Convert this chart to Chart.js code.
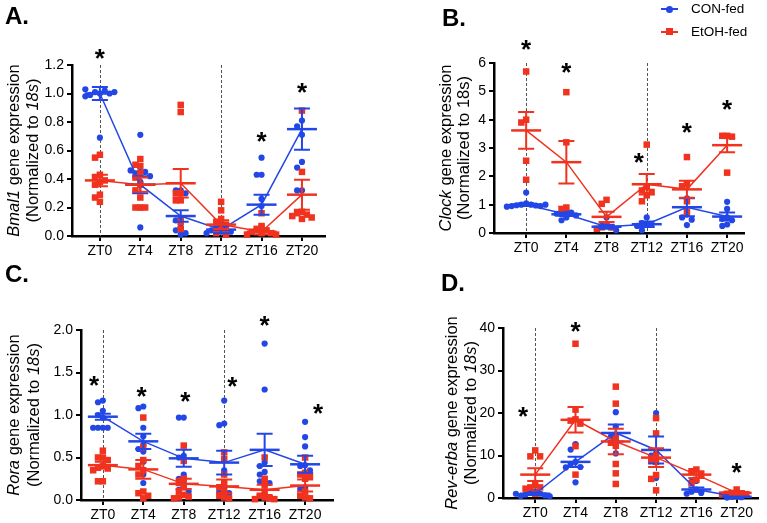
<!DOCTYPE html>
<html>
<head>
<meta charset="utf-8">
<script src="https://cdn.jsdelivr.net/npm/chart.js@4/dist/chart.umd.min.js"></script>
<style>
  body { margin: 0; background: #fff; }
  #wrap { position: relative; width: 767px; height: 523px; overflow: hidden; font-family: "Liberation Sans", Arial, sans-serif; }
  #wrap canvas { position: absolute; }
  .tag { position: absolute; font-weight: bold; font-size: 24px; line-height: 24px; color: #000; }
  .key { position: absolute; font-size: 13.5px; line-height: 14px; color: #000; }
  .kline { position: absolute; height: 2px; }
  .kdot { position: absolute; width: 7px; height: 7px; }
</style>
</head>
<body>
<div id="wrap">
  <canvas id="chartA" width="384" height="262" style="left:0;top:0"></canvas>
  <canvas id="chartB" width="383" height="262" style="left:384px;top:0"></canvas>
  <canvas id="chartC" width="384" height="261" style="left:0;top:262px"></canvas>
  <canvas id="chartD" width="383" height="261" style="left:384px;top:262px"></canvas>

  <div class="tag" style="left:5px;top:4px">A.</div>
  <div class="tag" style="left:442px;top:6px">B.</div>
  <div class="tag" style="left:5px;top:262px">C.</div>
  <div class="tag" style="left:441px;top:271px">D.</div>

  <!-- legend -->
  <div class="kline" style="left:661px;top:8px;width:17px;background:#2347e6"></div>
  <div class="kdot" style="left:666px;top:5.5px;border-radius:50%;background:#2347e6"></div>
  <div class="key" style="left:691px;top:2px">CON-fed</div>
  <div class="kline" style="left:661px;top:30.5px;width:17px;background:#f0321e"></div>
  <div class="kdot" style="left:666px;top:28px;background:#f0321e"></div>
  <div class="key" style="left:691px;top:24.5px">EtOH-fed</div>
</div>

<script>
// Data (one inner list per time point)
const zt = ['ZT0', 'ZT4', 'ZT8', 'ZT12', 'ZT16', 'ZT20'];

// A. Bmal1
const bmalCon = [
    [1.0, 1.01, 1.02, 0.99, 1.0, 1.03, 0.98, 1.01, 0.69],
    [0.71, 0.45, 0.44, 0.45, 0.46, 0.42, 0.38, 0.2, 0.06],
    [0.32, 0.32, 0.3, 0.12, 0.11, 0.06, 0.04, 0.02, 0.01],
    [0.08, 0.06, 0.05, 0.04, 0.03, 0.03, 0.02],
    [0.55, 0.43, 0.43, 0.26, 0.21, 0.07, 0.04, 0.02],
    [0.81, 0.77, 0.71, 0.52, 0.48, 0.32, 0.32]
];
const bmalConMean = [1.0, 0.36, 0.14, 0.045, 0.22, 0.75];
const bmalConSem = [0.045, 0.06, 0.04, 0.025, 0.07, 0.145];
const bmalEtoh = [
    [0.57, 0.55, 0.43, 0.41, 0.39, 0.38, 0.36, 0.29, 0.27, 0.24],
    [0.54, 0.5, 0.49, 0.44, 0.41, 0.36, 0.32, 0.27, 0.2, 0.2, 0.2],
    [0.92, 0.87, 0.3, 0.3, 0.25, 0.25, 0.1, 0.05],
    [0.24, 0.18, 0.12, 0.1, 0.08, 0.05, 0.02, 0.01],
    [0.16, 0.07, 0.05, 0.04, 0.03, 0.02, 0.02, 0.01, 0.01],
    [0.88, 0.45, 0.17, 0.16, 0.15, 0.14, 0.13, 0.12]
];
const bmalEtohMean = [0.39, 0.36, 0.37, 0.08, 0.03, 0.29];
const bmalEtohSem = [0.04, 0.05, 0.1, 0.03, 0.02, 0.105];
const bmalStars = [1.29, null, null, null, 0.71, 1.05];

// B. Clock
const clockCon = [
    [1.43, 1.05, 1.0, 1.0, 0.98, 0.97, 0.95, 0.95, 0.93, 1.0],
    [0.8, 0.75, 0.72, 0.68, 0.62, 0.55, 0.45],
    [0.55, 0.3, 0.25, 0.2, 0.15, 0.1],
    [0.55, 0.35, 0.3, 0.3, 0.25, 0.1],
    [1.75, 1.22, 0.65, 0.55, 0.47, 0.28],
    [1.1, 0.85, 0.55, 0.5, 0.45, 0.3, 0.25]
];
const clockConMean = [1.0, 0.66, 0.22, 0.31, 0.91, 0.58];
const clockConSem = [0.05, 0.06, 0.07, 0.1, 0.32, 0.14];
const clockEtoh = [
    [5.7, 4.0, 3.9, 2.55, 1.88],
    [4.97, 3.2, 0.9, 0.85],
    [1.17, 1.03, 0.3, 0.2, 0.2, 0.15],
    [3.12, 1.63, 1.5, 1.45, 1.33, 1.12],
    [2.68, 1.72, 1.65, 1.12, 0.75],
    [3.43, 3.43, 3.4, 2.13]
];
const clockEtohMean = [3.62, 2.5, 0.57, 1.72, 1.54, 3.1];
const clockEtohSem = [0.65, 0.75, 0.18, 0.36, 0.3, 0.25];
const clockStars = [6.7, 5.9, null, 2.72, 3.78, 4.58];

// C. Rora
const roraCon = [
    [1.17, 1.15, 1.05, 1.0, 0.97, 0.85, 0.85, 0.85, 0.85],
    [1.1, 1.08, 0.85, 0.75, 0.65, 0.6, 0.57, 0.45, 0.3, 0.2],
    [0.97, 0.97, 0.52, 0.5, 0.3, 0.25, 0.22, 0.15, 0.12, 0.1],
    [1.17, 0.9, 0.88, 0.35, 0.15, 0.1, 0.08, 0.05],
    [1.84, 1.3, 0.44, 0.4, 0.33, 0.3, 0.25, 0.22, 0.2],
    [0.92, 0.74, 0.63, 0.41, 0.4, 0.35, 0.15, 0.13]
];
const roraConMean = [0.98, 0.69, 0.49, 0.44, 0.59, 0.42];
const roraConSem = [0.035, 0.09, 0.1, 0.14, 0.19, 0.1];
const roraEtoh = [
    [0.58, 0.5, 0.5, 0.47, 0.4, 0.38, 0.37, 0.35, 0.22, 0.22],
    [0.97, 0.62, 0.47, 0.4, 0.35, 0.3, 0.1, 0.08, 0.05, 0.02],
    [0.64, 0.46, 0.25, 0.2, 0.15, 0.1, 0.06, 0.04, 0.03, 0.02],
    [0.56, 0.48, 0.3, 0.2, 0.15, 0.1, 0.05, 0.03, 0.02],
    [0.5, 0.25, 0.18, 0.1, 0.05, 0.03, 0.02, 0.01, 0.01],
    [0.5, 0.32, 0.3, 0.28, 0.25, 0.1, 0.05, 0.03, 0.02]
];
const roraEtohMean = [0.41, 0.36, 0.19, 0.16, 0.12, 0.17];
const roraEtohSem = [0.04, 0.11, 0.06, 0.08, 0.06, 0.07];
const roraStars = [1.42, 1.3, 1.24, 1.41, 2.13, 1.1];

// D. Rev-erba
const revCon = [
    [1.5, 1.2, 1.0, 0.8, 0.6, 0.5, 0.4, 1.0],
    [12.7, 11.4, 8.5, 8.0, 7.3, 7.2, 3.7],
    [20.2, 16.8, 15.0, 14.5, 10.5],
    [20.0, 10.5, 10.0, 4.7],
    [4.0, 3.8, 2.0, 1.5, 1.2, 1.0],
    [0.4, 0.3, 0.2, 0.1]
];
const revConMean = [1.0, 8.5, 15.3, 11.3, 2.0, 0.3];
const revConSem = [0.3, 1.2, 2.0, 3.2, 0.5, 0.1];
const revEtoh = [
    [11.2, 9.8, 9.8, 3.0, 2.5, 2.5, 2.2, 1.0],
    [36.3, 20.8, 18.5, 18.2, 17.5, 12.2, 5.5],
    [26.2, 22.2, 14.0, 13.0, 12.3, 8.0, 5.8, 3.3],
    [18.8, 15.2, 10.0, 9.0, 8.5, 5.4, 4.5, 1.8],
    [6.7, 6.3, 5.5, 4.3, 3.5],
    [2.0, 1.2, 1.1, 1.0, 0.9, 0.8]
];
const revEtohMean = [5.5, 18.4, 13.3, 9.5, 5.5, 1.2];
const revEtohSem = [1.5, 3.0, 3.0, 2.2, 0.8, 0.4];
const revStars = [20.7, 40.7, null, null, null, 7.5];

const BLUE = '#2347e6';
const RED = '#f0321e';
const FONT = '"Liberation Sans", Arial, sans-serif';

// spread points of one time point sideways so they don't sit on top of each other
function swarm(groups, yTol) {
    const step = 0.12;
    const out = [];
    groups.forEach((vals, k) => {
        const placed = [];
        vals.forEach(v => {
            for (let j = 0; j < 40; j++) {
                const off = (j === 0 ? 0 : (j % 2 ? -1 : 1) * Math.ceil(j / 2)) * step;
                const hit = placed.some(p => Math.abs(p.y - v) < yTol && Math.abs(p.off - off) < step * 0.95);
                if (!hit) {
                    placed.push({ y: v, off: off });
                    out.push({ x: k + off, y: v });
                    break;
                }
            }
        });
    });
    return out;
}

// error bars, mean bars, dashed guides, stars and the y title
function makeDecor(p) {
    return {
        id: 'decor',
        beforeDatasetsDraw(chart) {
            const { ctx, chartArea: a, scales: { x } } = chart;
            ctx.save();
            ctx.strokeStyle = '#555';
            ctx.lineWidth = 1;
            ctx.setLineDash([3, 2]);
            [0, 3].forEach(i => {
                const px = Math.round(x.getPixelForValue(i)) + 0.5;
                ctx.beginPath();
                ctx.moveTo(px, a.top);
                ctx.lineTo(px, a.bottom);
                ctx.stroke();
            });
            ctx.restore();
        },
        afterDatasetsDraw(chart) {
            const { ctx, scales: { x, y } } = chart;
            ctx.save();
            [[p.conMean, p.conSem, BLUE], [p.etohMean, p.etohSem, RED]].forEach(([mean, sem, color]) => {
                ctx.strokeStyle = color;
                mean.forEach((m, i) => {
                    const px = x.getPixelForValue(i);
                    const pm = y.getPixelForValue(m);
                    const pt = y.getPixelForValue(m + sem[i]);
                    const pb = y.getPixelForValue(Math.max(0, m - sem[i]));
                    ctx.lineWidth = 2;
                    ctx.beginPath();
                    ctx.moveTo(px, pt); ctx.lineTo(px, pb);
                    ctx.moveTo(px - 8, pt); ctx.lineTo(px + 8, pt);
                    ctx.moveTo(px - 8, pb); ctx.lineTo(px + 8, pb);
                    ctx.stroke();
                    ctx.lineWidth = 2.5;
                    ctx.beginPath();
                    ctx.moveTo(px - 15, pm); ctx.lineTo(px + 15, pm);
                    ctx.stroke();
                });
            });
            ctx.restore();
        },
        afterDraw(chart) {
            const { ctx, chartArea: a, scales: { x, y } } = chart;
            ctx.save();
            // significance stars
            ctx.fillStyle = '#000';
            ctx.font = 'bold 26px ' + FONT;
            ctx.textAlign = 'center';
            ctx.textBaseline = 'alphabetic';
            p.stars.forEach((s, i) => {
                if (s === null) return;
                ctx.fillText('*', x.getPixelForValue(i + (p.nudge[i] || 0)), y.getPixelForValue(s) + 15);
            });
            // y axis title, two lines with italic gene names
            const cy = (a.top + a.bottom) / 2;
            p.title.forEach((line, li) => {
                ctx.save();
                ctx.translate(p.titleX[li], cy);
                ctx.rotate(-Math.PI / 2);
                ctx.textAlign = 'left';
                ctx.textBaseline = 'middle';
                let w = 0;
                line.forEach(([t, it]) => { ctx.font = (it ? 'italic ' : '') + '16.5px ' + FONT; w += ctx.measureText(t).width; });
                let tx = -w / 2;
                line.forEach(([t, it]) => {
                    ctx.font = (it ? 'italic ' : '') + '16.5px ' + FONT;
                    ctx.fillText(t, tx, 0);
                    tx += ctx.measureText(t).width;
                });
                ctx.restore();
            });
            ctx.restore();
        }
    };
}

function axisStyle() {
    return {
        grid: { display: true, drawOnChartArea: false, drawTicks: true, tickLength: 5, color: '#000', lineWidth: 2 },
        border: { display: true, color: '#000', width: 2.5 }
    };
}

function makePanel(id, p) {
    const canvas = document.getElementById(id);
    const W = canvas.width, H = canvas.height;
    const yTol = p.yMax * 0.035;
    return new Chart(canvas, {
        type: 'scatter',
        data: {
            datasets: [
                { data: swarm(p.con, yTol), pointStyle: 'circle', pointRadius: 3.1, backgroundColor: BLUE, borderWidth: 0, clip: false, order: 4 },
                { data: swarm(p.etoh, yTol), pointStyle: 'rect', pointRadius: 4.6, backgroundColor: RED, borderWidth: 0, clip: false, order: 3 },
                { type: 'line', data: p.conMean.map((m, i) => ({ x: i, y: m })), borderColor: BLUE, borderWidth: 1.5, pointRadius: 0, order: 2 },
                { type: 'line', data: p.etohMean.map((m, i) => ({ x: i, y: m })), borderColor: RED, borderWidth: 1.5, pointRadius: 0, order: 1 }
            ]
        },
        options: {
            responsive: false,
            animation: false,
            events: [],
            layout: { padding: { top: p.box.top, right: W - p.box.right, left: 0, bottom: 0 } },
            plugins: { legend: { display: false }, tooltip: { enabled: false } },
            scales: {
                x: Object.assign(axisStyle(), {
                    type: 'linear',
                    min: p.xMin,
                    max: p.xMax,
                    afterBuildTicks: s => { s.ticks = zt.map((t, i) => ({ value: i })); },
                    afterFit: s => { s.height = H - p.box.bottom; },
                    ticks: { callback: (v, i) => zt[i], autoSkip: false, maxRotation: 0, color: '#000', padding: 2, font: { family: FONT, size: 14 } }
                }),
                y: Object.assign(axisStyle(), {
                    min: 0,
                    max: p.yMax,
                    afterFit: s => { s.width = p.box.left; },
                    ticks: { stepSize: p.step, callback: v => v.toFixed(p.dec), color: '#000', padding: 3, font: { family: FONT, size: 14 } }
                })
            }
        },
        plugins: [makeDecor(p)]
    });
}

makePanel('chartA', {
    con: bmalCon, conMean: bmalConMean, conSem: bmalConSem,
    etoh: bmalEtoh, etohMean: bmalEtohMean, etohSem: bmalEtohSem,
    stars: bmalStars, nudge: [],
    yMax: 1.2, step: 0.2, dec: 1,
    box: { left: 72, right: 325, top: 65, bottom: 236 }, xMin: -0.69, xMax: 5.57,
    titleX: [14, 33],
    title: [[['Bmal1', true], [' gene expression', false]], [['(Normalized to ', false], ['18s', true], [')', false]]]
});

makePanel('chartB', {
    con: clockCon, conMean: clockConMean, conSem: clockConSem,
    etoh: clockEtoh, etohMean: clockEtohMean, etohSem: clockEtohSem,
    stars: clockStars, nudge: [0, 0, 0, -0.2, 0, 0],
    yMax: 6, step: 1, dec: 0,
    box: { left: 110, right: 360, top: 63, bottom: 233 }, xMin: -0.80, xMax: 5.42,
    titleX: [62, 80],
    title: [[['Clock', true], [' gene expression', false]], [['(Normalized to 18s)', false]]]
});

makePanel('chartC', {
    con: roraCon, conMean: roraConMean, conSem: roraConSem,
    etoh: roraEtoh, etohMean: roraEtohMean, etohSem: roraEtohSem,
    stars: roraStars, nudge: [-0.22, -0.04, 0.04, 0.2, 0, 0.32],
    yMax: 2.0, step: 0.5, dec: 1,
    box: { left: 81, right: 333, top: 68, bottom: 238 }, xMin: -0.54, xMax: 5.69,
    titleX: [14, 34],
    title: [[['Rora', true], [' gene expression', false]], [['(Normalized to ', false], ['18s', true], [')', false]]]
});

makePanel('chartD', {
    con: revCon, conMean: revConMean, conSem: revConSem,
    etoh: revEtoh, etohMean: revEtohMean, etohSem: revEtohSem,
    stars: revStars, nudge: [-0.3, 0, 0, 0, 0, 0],
    yMax: 40, step: 10, dec: 0,
    box: { left: 119, right: 374, top: 66, bottom: 236 }, xMin: -0.80, xMax: 5.53,
    titleX: [68, 87],
    title: [[['Rev-erba', true], [' gene expression', false]], [['(Normalized to ', false], ['18s', true], [')', false]]]
});
</script>
</body>
</html>
